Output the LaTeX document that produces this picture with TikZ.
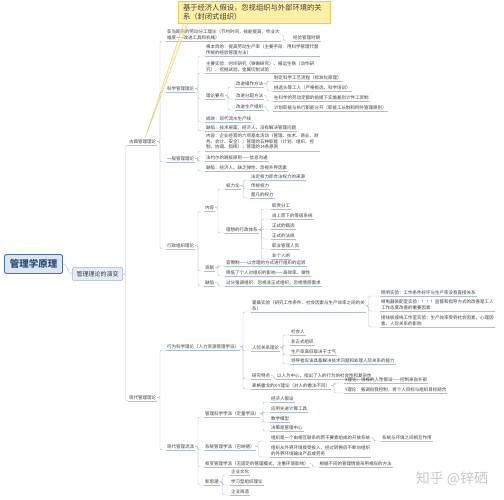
\documentclass[tikz,border=0pt]{standalone}
\usepackage{fontspec}
\newfontfamily\cjk{Noto Sans CJK SC}
\usetikzlibrary{positioning}

\definecolor{txt}{HTML}{3C3C3C}
\definecolor{lnkcol}{HTML}{B4C1D3}
\definecolor{ulcol}{HTML}{A9BEDA}
\definecolor{rootfill}{HTML}{DCE6F2}
\definecolor{rootline}{HTML}{4A72B0}
\definecolor{rootfont}{HTML}{2E4C7A}
\definecolor{evolfill}{HTML}{E4ECF7}
\definecolor{evolline}{HTML}{A3B5CF}
\definecolor{notefill}{HTML}{FDF0A6}
\definecolor{noteline}{HTML}{E3CB62}
\definecolor{wmcol}{HTML}{C9C9C9}

\tikzset{
  uline/.style={draw=ulcol, line width=0.45pt},
  link/.style={draw=lnkcol, line width=0.45pt, rounded corners=2pt},
  topic/.style={font=\cjk\fontsize{4.5}{5.6}\selectfont, text=txt, inner xsep=0.8pt, inner ysep=1.1pt,
    anchor=south west, align=left,
    append after command={(\tikzlastnode.south west) edge[uline] (\tikzlastnode.south east)}},
  rootbox/.style={draw=rootline, fill=rootfill, line width=0.8pt, rounded corners=1.5pt, text=rootfont,
    font=\cjk\bfseries\fontsize{9.5}{10}\selectfont, minimum width=58pt, minimum height=19pt},
  evolbox/.style={draw=evolline, fill=evolfill, line width=0.5pt, rounded corners=1pt, text=txt,
    font=\cjk\fontsize{6}{7}\selectfont, minimum width=50pt, minimum height=13pt},
  notebox/.style={draw=noteline, fill=notefill, line width=0.5pt, text=txt, align=left,
    inner xsep=5pt, inner ysep=3pt, font=\cjk\fontsize{7.3}{9}\selectfont, text width=142pt}
}

\begin{document}
\begin{tikzpicture}[x=1pt,y=-1pt]
\fill[white] (0,0) rectangle (504,500);
\useasboundingbox (0,0) rectangle (504,500);

%% root
\node[rootbox] (root) at (33.5,264) {管理学原理};
\node[evolbox] (evol) at (97.5,274) {管理理论的演变};
\draw[link] (root.east) to[out=0,in=180] (evol.west);

%% classic theory
\node[topic] (classic) at (128,145) {古典管理理论};
\node[topic] (smith) at (166,41) {亚当斯密的劳动分工理论（节约时间，技能提高，作业大\\幅度——改进工具和机械）};
\node[topic] (experience) at (292,41) {经验管理时期};
\node[topic] (sci) at (166,92) {科学管理理论};
\node[topic] (sciaim) at (205,56) {根本目的：提高劳动生产率（主要手段：用科学管理代替\\传统的经验管理方法）};
\node[topic] (sciexp) at (205,73) {主要实验：时间研究（铁锹研究）、搬运生铁（动作研\\究）、挖掘试验、金属切削试验};
\node[topic] (scipoint) at (205,99) {理论要点};
\node[topic] (opmeth) at (235,87) {改进操作方法};
\node[topic] (craft) at (273,81) {制定科学工艺流程（标准化原理）};
\node[topic] (worker) at (273,91) {挑选头等工人（严格挑选、科学培训）};
\node[topic] (paymeth) at (235,99) {改进分配方法};
\node[topic] (piecework) at (273,101) {在科学的劳动定额的前提下实施差别计件工资制};
\node[topic] (prodorg) at (235,110) {改进生产组织};
\node[topic] (plan) at (273,111) {计划职能与执行职能分开（职能工长制和例外管理原则）};
\node[topic] (sciresult) at (205,122) {成效：现代流水生产线};
\node[topic] (scidefect) at (205,131) {缺陷：技术层面、经济人、没有解决管理问题};

\node[topic] (general) at (166,162) {一般管理理论};
\node[topic] (gencontent) at (205,151) {内容：企业经营的六项基本活动（管理、技术、商业、财\\务、会计、安全）；管理的五种职能（计划、组织、控\\制、协调、指挥）；管理的14条原则};
\node[topic] (gangplank) at (205,161) {法约尔的跳板原则——信息沟通};
\node[topic] (gendefect) at (205,171) {缺陷：经济人、缺乏弹性、忽视外界因素};

\node[topic] (bureau) at (166,249) {行政组织理论};
\node[topic] (bcontent) at (204,211) {内容};
\node[topic] (power) at (225,189) {权力论};
\node[topic] (legal) at (250,180) {法定权力即合法权力的来源};
\node[topic] (tradition) at (250,189) {传统权力};
\node[topic] (charisma) at (250,198) {超凡的权力};
\node[topic] (ideal) at (225,233) {理想的行政体系};
\node[topic] (duty) at (271,209) {职责分工};
\node[topic] (hierarchy) at (271,219) {自上而下的等级系统};
\node[topic] (selection) at (271,229) {正式的甄选};
\node[topic] (rules) at (271,239) {正式的法规};
\node[topic] (career) at (271,249) {职业管理人员};
\node[topic] (impersonal) at (271,259) {非个人的};
\node[topic] (bcontrib) at (204,271) {贡献};
\node[topic] (rational) at (225,266) {官僚制——以合理的方式进行组织的运转};
\node[topic] (lessperson) at (225,276) {降低了个人对组织的影响——高效率、弹性};
\node[topic] (bdefect) at (204,286) {缺陷};
\node[topic] (overformal) at (225,286) {过分强调组织，忽视非正式组织，忽视情感需求};

%% modern theory
\node[topic] (modern) at (128,401) {现代管理理论};
\node[topic] (behavior) at (166,350) {行为科学理论（人力资源管理学派）};
\node[topic] (hawthorne) at (251,312) {霍桑实验（研究工作条件、社会因素与生产效率之间的关\\系）};
\node[topic] (lighting) at (380,296) {照明实验：工作条件好坏与生产率没有直接关系};
\node[topic] (relay) at (380,311) {继电器装配室实验：！！！监督和指导方式的改善是工人\\工作态度改善的重要因素};
\node[topic] (wiring) at (380,327) {接线板接线工作室实验：生产效率受到社会因素、心理因\\素、人际关系的影响};
\node[topic] (relation) at (251,351) {人际关系理论};
\node[topic] (socialman) at (290,335) {社会人};
\node[topic] (informal) at (290,345) {非正式组织};
\node[topic] (morale) at (290,355) {生产率高低取决于士气};
\node[topic] (leader) at (290,364) {领导者应该具备解决技术问题和处理人际关系的能力};
\node[topic] (feature) at (251,379) {研究特点};
\node[topic] (humancentre) at (276,379) {以人为中心，指出了人的行为的社会性和复杂性};
\node[topic] (xy) at (251,389) {麦格雷戈的X-Y理论（对人的看法不同）};
\node[topic] (xtheory) at (344,383) {X理论：消极的人性假设——控制来自外部};
\node[topic] (ytheory) at (344,393) {Y理论：强调自我控制，将个人目标与组织目标结合};

\node[topic] (schools) at (166,450) {现代管理流派};
\node[topic] (quant) at (204,417) {管理科学学派（定量学派）};
\node[topic] (econman) at (270,402) {经济人假设};
\node[topic] (tools) at (270,412) {应用先进计算工具};
\node[topic] (model) at (270,422) {数学模型};
\node[topic] (decision) at (270,431) {决策是管理中心};
\node[topic] (system) at (204,450) {系统管理学派（巴纳德）};
\node[topic] (opensys) at (270,441) {组织是一个由相互联系的若干要素组成的开放系统};
\node[topic] (interact) at (381,441) {系统与环境之间相互作用};
\node[topic] (transform) at (270,457) {组织从外界环境接受投入，经过转换后不断向组织\\的外界环境输出产品或劳务};
\node[topic] (contingency) at (204,467) {权变管理学派（无固定的管理模式，注重环境影响）};
\node[topic] (method) at ([xshift=9pt]contingency.south east) {根据不同的管理情境采用相应的方法};
\node[topic] (newwave) at (204,485) {新思潮};
\node[topic] (culture) at (230,475) {企业文化};
\node[topic] (learning) at (230,485) {学习型组织理论};
\node[topic] (reengineer) at (230,495) {企业再造};

%% connectors
\foreach \p/\c in {evol/classic, evol/modern,
    classic/smith, classic/sci, classic/general, classic/bureau, smith/experience,
    sci/sciaim, sci/sciexp, sci/scipoint, sci/sciresult, sci/scidefect,
    scipoint/opmeth, scipoint/paymeth, scipoint/prodorg,
    opmeth/craft, opmeth/worker, paymeth/piecework, prodorg/plan,
    general/gencontent, general/gangplank, general/gendefect,
    bureau/bcontent, bureau/bcontrib, bureau/bdefect,
    bcontent/power, bcontent/ideal, power/legal, power/tradition, power/charisma,
    ideal/duty, ideal/hierarchy, ideal/selection, ideal/rules, ideal/career, ideal/impersonal,
    bcontrib/rational, bcontrib/lessperson, bdefect/overformal,
    modern/behavior, modern/schools,
    behavior/hawthorne, behavior/relation, behavior/feature, behavior/xy,
    hawthorne/lighting, hawthorne/relay, hawthorne/wiring,
    relation/socialman, relation/informal, relation/morale, relation/leader,
    feature/humancentre, xy/xtheory, xy/ytheory,
    schools/quant, schools/system, schools/contingency, schools/newwave,
    quant/econman, quant/tools, quant/model, quant/decision,
    system/opensys, system/transform, opensys/interact, contingency/method,
    newwave/culture, newwave/learning, newwave/reengineer}
  \draw[link] (\p.east) -- ++(3,0) |- (\c.south west);

%% note
\node[notebox] (note) at (254,12.5) {基于经济人假设，忽视组织与外部环境的关\\系（封闭式组织）};
\filldraw[fill=notefill, fill opacity=0.45, draw=noteline, line width=0.4pt]
  ([xshift=6pt]note.south west) -- ([xshift=10pt]note.south west) -- ([xshift=-12pt]classic.north east) -- cycle;

%% watermark
\node[font=\cjk\fontsize{14}{14}\selectfont, text=wmcol] (mark) at (452,479) {知乎 @锌硒};

\end{tikzpicture}
\end{document}
